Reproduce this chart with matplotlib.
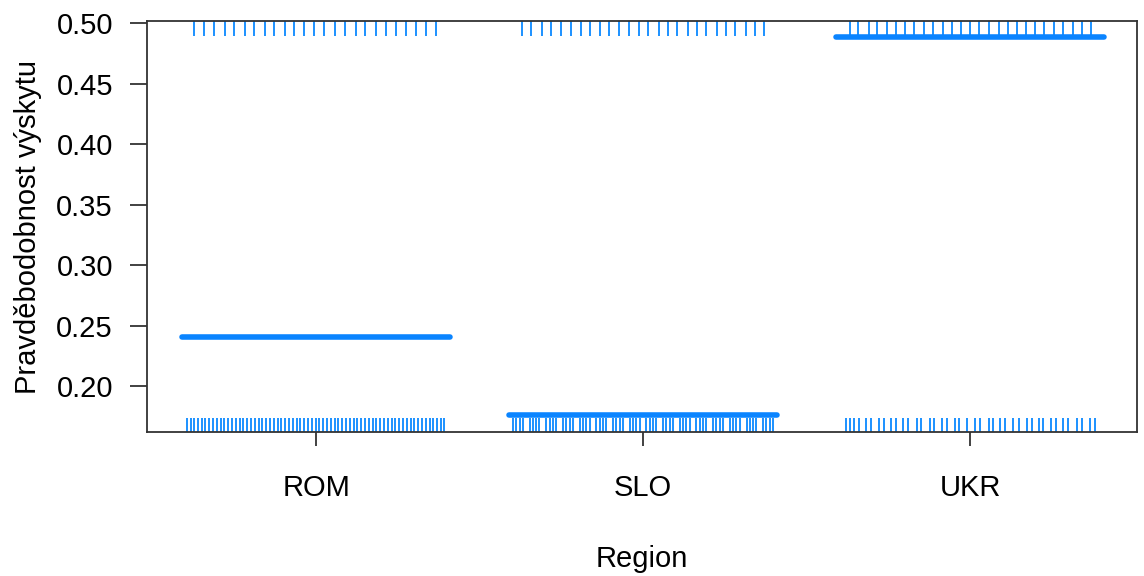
import numpy as np
import matplotlib
matplotlib.use("Agg")
import matplotlib.pyplot as plt

plt.rcParams['font.family'] = ['Liberation Sans', 'DejaVu Sans']

# fitted probability per region
regions = ["ROM", "SLO", "UKR"]
prob = [0.241, 0.176, 0.4885]

# jittered positions of observations (offset from the region centre)
rug_top = {
    "ROM": [-0.373, -0.343, -0.312, -0.278, -0.251, -0.217, -0.190, -0.156, -0.128,
            -0.095, -0.067, -0.037, -0.006, 0.024, 0.058, 0.089, 0.122, 0.150,
            0.183, 0.214, 0.245, 0.275, 0.306, 0.336, 0.367],
    "SLO": [-0.371, -0.343, -0.309, -0.281, -0.252, -0.220, -0.191, -0.164, -0.131,
            -0.103, -0.075, -0.042, -0.013, 0.014, 0.049, 0.075, 0.103, 0.137,
            0.164, 0.193, 0.225, 0.254, 0.281, 0.315, 0.343, 0.371],
    "UKR": [-0.369, -0.342, -0.311, -0.284, -0.255, -0.227, -0.199, -0.171, -0.141,
            -0.113, -0.084, -0.056, -0.028, 0.000, 0.028, 0.058, 0.087, 0.115,
            0.143, 0.171, 0.199, 0.227, 0.257, 0.285, 0.314, 0.341, 0.369],
}
rug_bottom = {
    "ROM": [-0.395, -0.384, -0.373, -0.361, -0.349, -0.339, -0.327, -0.315, -0.303,
            -0.291, -0.281, -0.269, -0.257, -0.245, -0.232, -0.223, -0.211, -0.199,
            -0.187, -0.174, -0.165, -0.153, -0.141, -0.128, -0.116, -0.107, -0.095,
            -0.083, -0.070, -0.058, -0.049, -0.037, -0.024, -0.012, 0.000, 0.009,
            0.021, 0.034, 0.046, 0.058, 0.067, 0.080, 0.092, 0.104, 0.116, 0.125,
            0.138, 0.150, 0.162, 0.174, 0.183, 0.196, 0.208, 0.220, 0.232, 0.242,
            0.254, 0.266, 0.278, 0.291, 0.300, 0.312, 0.324, 0.336, 0.349, 0.358,
            0.370, 0.382, 0.391],
    "SLO": [-0.398, -0.388, -0.378, -0.368, -0.347, -0.337, -0.327, -0.317,
            -0.296, -0.286, -0.276, -0.266, -0.245, -0.235, -0.225, -0.215,
            -0.194, -0.184, -0.174, -0.164, -0.143, -0.133, -0.123, -0.113,
            -0.092, -0.082, -0.072, -0.062, -0.041, -0.031, -0.021, -0.011,
            0.010, 0.020, 0.030, 0.040, 0.061, 0.071, 0.081, 0.091,
            0.112, 0.122, 0.132, 0.142, 0.163, 0.173, 0.183, 0.193,
            0.214, 0.224, 0.234, 0.244, 0.265, 0.275, 0.285, 0.295,
            0.316, 0.326, 0.336, 0.346, 0.367, 0.377, 0.387, 0.397],
    "UKR": [-0.380, -0.367, -0.354, -0.339, -0.319, -0.304, -0.280, -0.265, -0.243,
            -0.227, -0.204, -0.189, -0.163, -0.150, -0.124, -0.110, -0.087, -0.071,
            -0.048, -0.033, -0.010, 0.015, 0.031, 0.056, 0.071, 0.092, 0.107,
            0.132, 0.148, 0.173, 0.188, 0.209, 0.224, 0.248, 0.263, 0.285, 0.300,
            0.326, 0.341, 0.365, 0.382],
}

yticks = [0.20, 0.25, 0.30, 0.35, 0.40, 0.45, 0.50]

line_col = "#0A84FF"
rug_col = "#1C92FF"

fig = plt.figure(figsize=(11.44, 5.76), dpi=100)
ax = fig.add_axes([0.1285, 0.25, 0.8654, 0.7135])

for i, reg in enumerate(regions):
    xc = i + 1
    ax.plot([xc - 0.41, xc + 0.41], [prob[i], prob[i]], color=line_col, lw=4,
            solid_capstyle="round", zorder=3)
    top = [xc + d for d in rug_top[reg]]
    bot = [xc + d for d in rug_bottom[reg]]
    ax.vlines(top, 1 - 0.036, 1, transform=ax.get_xaxis_transform(),
              color=rug_col, lw=1.4, zorder=2)
    ax.vlines(bot, 0, 0.034, transform=ax.get_xaxis_transform(),
              color=rug_col, lw=1.4, zorder=2)

ax.set_xlim(0.483, 3.51)
ax.set_ylim(0.162, 0.502)
ax.set_xticks([1, 2, 3])
ax.set_xticklabels(regions)
ax.set_yticks(yticks)
ax.set_yticklabels([f"{v:.2f}" for v in yticks])

for s in ax.spines.values():
    s.set_color("#333333")
    s.set_linewidth(1.3)
ax.tick_params(axis="both", colors="#333333", labelcolor="black",
               labelsize=21, width=1.3)
ax.tick_params(axis="x", length=10, pad=20)
ax.tick_params(axis="y", length=12.5, pad=12)

ax.set_xlabel("Region", fontsize=21, labelpad=31)
ax.set_ylabel("Pravděbodobnost výskytu", fontsize=21, labelpad=10)

fig.savefig("out.png", dpi=100)
